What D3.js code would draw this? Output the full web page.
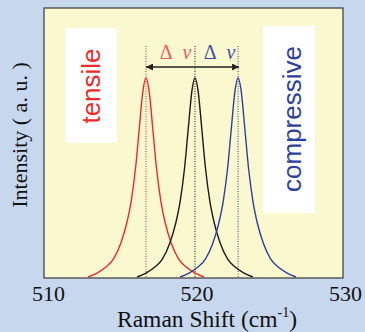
<!DOCTYPE html>
<html>
<head>
<meta charset="utf-8">
<script src="https://cdn.jsdelivr.net/npm/d3@7"></script>
<style>
  body { margin: 0; background: #c6d7ee; }
  svg { display: block; }
</style>
</head>
<body>
<div id="chart"></div>
<script>
    "use strict";

    // Raman spectra, intensity normalised to the peak (a.u.)
    var tensileShift   = [512.7, 513.3, 513.9, 514.4, 514.9, 515.3, 515.6, 515.9, 516.15, 516.4, 516.6, 516.8, 517.05, 517.3, 517.6, 517.9, 518.3, 518.8, 519.3, 519.9, 520.5];
    var tensileInt     = [0, 0.02, 0.05, 0.09, 0.17, 0.27, 0.38, 0.55, 0.75, 0.94, 1, 0.94, 0.75, 0.55, 0.38, 0.27, 0.17, 0.09, 0.05, 0.02, 0];
    var unstrainedShift = [516.0, 516.6, 517.2, 517.7, 518.2, 518.6, 518.9, 519.2, 519.45, 519.7, 519.9, 520.1, 520.35, 520.6, 520.9, 521.2, 521.6, 522.1, 522.6, 523.2, 523.8];
    var unstrainedInt   = [0, 0.02, 0.05, 0.09, 0.17, 0.27, 0.38, 0.55, 0.75, 0.94, 1, 0.94, 0.75, 0.55, 0.38, 0.27, 0.17, 0.09, 0.05, 0.02, 0];
    var compShift      = [518.9, 519.5, 520.1, 520.6, 521.1, 521.5, 521.8, 522.1, 522.35, 522.6, 522.8, 523.0, 523.25, 523.5, 523.8, 524.1, 524.5, 525.0, 525.5, 526.1, 526.7];
    var compInt        = [0, 0.02, 0.05, 0.09, 0.17, 0.27, 0.38, 0.55, 0.75, 0.94, 1, 0.94, 0.75, 0.55, 0.38, 0.27, 0.17, 0.09, 0.05, 0.02, 0];
    var peakCenters    = [516.6, 519.9, 522.8];
    var xTicks         = [510, 520, 530];

    var series = [
        { x: tensileShift,    y: tensileInt,    color: "#ee2a2a" },
        { x: unstrainedShift, y: unstrainedInt, color: "#1a1a1a" },
        { x: compShift,       y: compInt,       color: "#2f3f9c" }
    ];

    var W = 365, H = 332;
    var box = { left: 44, top: 8, right: 343, bottom: 278 };

    var svg = d3.select("#chart").append("svg")
        .attr("width", W)
        .attr("height", H);

    svg.append("rect").attr("width", W).attr("height", H).attr("fill", "#c6d7ee");

    var x = d3.scaleLinear().domain([510, 530]).range([48, 345]);
    var y = d3.scaleLinear().domain([0, 1]).range([277, 78]);

    // plot area
    svg.append("rect")
        .attr("x", box.left).attr("y", box.top)
        .attr("width", box.right - box.left).attr("height", box.bottom - box.top)
        .attr("fill", "#faf8cf");

    // label boxes
    svg.append("rect").attr("x", 65).attr("y", 28).attr("width", 52).attr("height", 115).attr("fill", "#fff");
    svg.append("rect").attr("x", 263).attr("y", 26).attr("width", 52).attr("height", 187).attr("fill", "#fff");

    svg.append("text")
        .attr("transform", "translate(100,86) rotate(-90)")
        .attr("text-anchor", "middle")
        .attr("font-family", "Liberation Sans, Arial, sans-serif")
        .attr("font-size", 26)
        .attr("fill", "#ee2a2a")
        .text("tensile");

    svg.append("text")
        .attr("transform", "translate(301,119) rotate(-90)")
        .attr("text-anchor", "middle")
        .attr("font-family", "Liberation Sans, Arial, sans-serif")
        .attr("font-size", 26)
        .attr("fill", "#2f3f9c")
        .text("compressive");

    // dotted peak markers
    svg.selectAll("line.peak")
        .data(peakCenters)
        .enter().append("line")
        .attr("class", "peak")
        .attr("x1", function (d) { return x(d); })
        .attr("x2", function (d) { return x(d); })
        .attr("y1", 46).attr("y2", box.bottom)
        .attr("stroke", function (d, i) { return series[i].color; })
        .attr("stroke-width", 1)
        .attr("stroke-dasharray", "1,1.5");

    // spectra
    var line = d3.line()
        .x(function (d) { return x(d[0]); })
        .y(function (d) { return y(d[1]); })
        .curve(d3.curveMonotoneX);

    series.forEach(function (s) {
        svg.append("path")
            .datum(d3.zip(s.x, s.y))
            .attr("d", line)
            .attr("fill", "none")
            .attr("stroke", s.color)
            .attr("stroke-width", 1.4);
    });

    // double arrow between tensile and compressive peaks
    var defs = svg.append("defs");
    ["arrEnd", "arrStart"].forEach(function (id, i) {
        defs.append("marker")
            .attr("id", id)
            .attr("viewBox", "0 0 10 10")
            .attr("refX", 10).attr("refY", 5)
            .attr("markerWidth", 7).attr("markerHeight", 7)
            .attr("markerUnits", "userSpaceOnUse")
            .attr("orient", i === 0 ? "auto" : "auto-start-reverse")
            .append("path")
            .attr("d", "M0,0 L10,5 L0,10 Z")
            .attr("fill", "#222");
    });
    svg.append("line")
        .attr("x1", x(peakCenters[0])).attr("x2", x(peakCenters[2]) + 1)
        .attr("y1", 67).attr("y2", 67)
        .attr("stroke", "#222").attr("stroke-width", 1.5)
        .attr("marker-start", "url(#arrStart)")
        .attr("marker-end", "url(#arrEnd)");

    var dn = [
        { pos: (peakCenters[0] + peakCenters[1]) / 2, shift: 5, color: "#f05a5a" },
        { pos: (peakCenters[1] + peakCenters[2]) / 2, shift: 3, color: "#3f4fa6" }
    ];
    dn.forEach(function (d) {
        var t = svg.append("text")
            .attr("x", x(d.pos) + d.shift).attr("y", 59)
            .attr("text-anchor", "middle")
            .attr("font-family", "Liberation Serif, Times New Roman, serif")
            .attr("font-size", 20)
            .attr("fill", d.color);
        t.append("tspan").text("\u0394\u2002");
        t.append("tspan").attr("font-style", "italic").text("\u03bd");
    });

    // frame
    svg.append("rect")
        .attr("x", box.left).attr("y", box.top)
        .attr("width", box.right - box.left).attr("height", box.bottom - box.top)
        .attr("fill", "none")
        .attr("stroke", "#3a3a3a").attr("stroke-width", 1.2);

    // x axis labels
    var xAxis = d3.axisBottom(x).tickValues(xTicks).tickSize(0).tickPadding(0).tickFormat(d3.format("d"));
    var gx = svg.append("g").attr("transform", "translate(0,285)").call(xAxis);
    gx.select(".domain").remove();
    gx.selectAll("text")
        .attr("font-family", "Liberation Serif, Times New Roman, serif")
        .attr("font-size", 22)
        .attr("fill", "#111")
        .attr("dy", "0.71em");

    var xt = svg.append("text")
        .attr("x", 117).attr("y", 327)
        .attr("font-family", "Liberation Serif, Times New Roman, serif")
        .attr("font-size", 23.5)
        .attr("fill", "#111");
    xt.append("tspan").text("Raman Shift (cm");
    xt.append("tspan").attr("font-size", 14).attr("dy", -10).text("-1");
    xt.append("tspan").attr("dy", 10).text(")");

    svg.append("text")
        .attr("transform", "translate(27,135) rotate(-90)")
        .attr("text-anchor", "middle")
        .attr("font-family", "Liberation Serif, Times New Roman, serif")
        .attr("font-size", 22)
        .attr("fill", "#111")
        .text("Intensity ( a. u. )");
</script>
</body>
</html>
